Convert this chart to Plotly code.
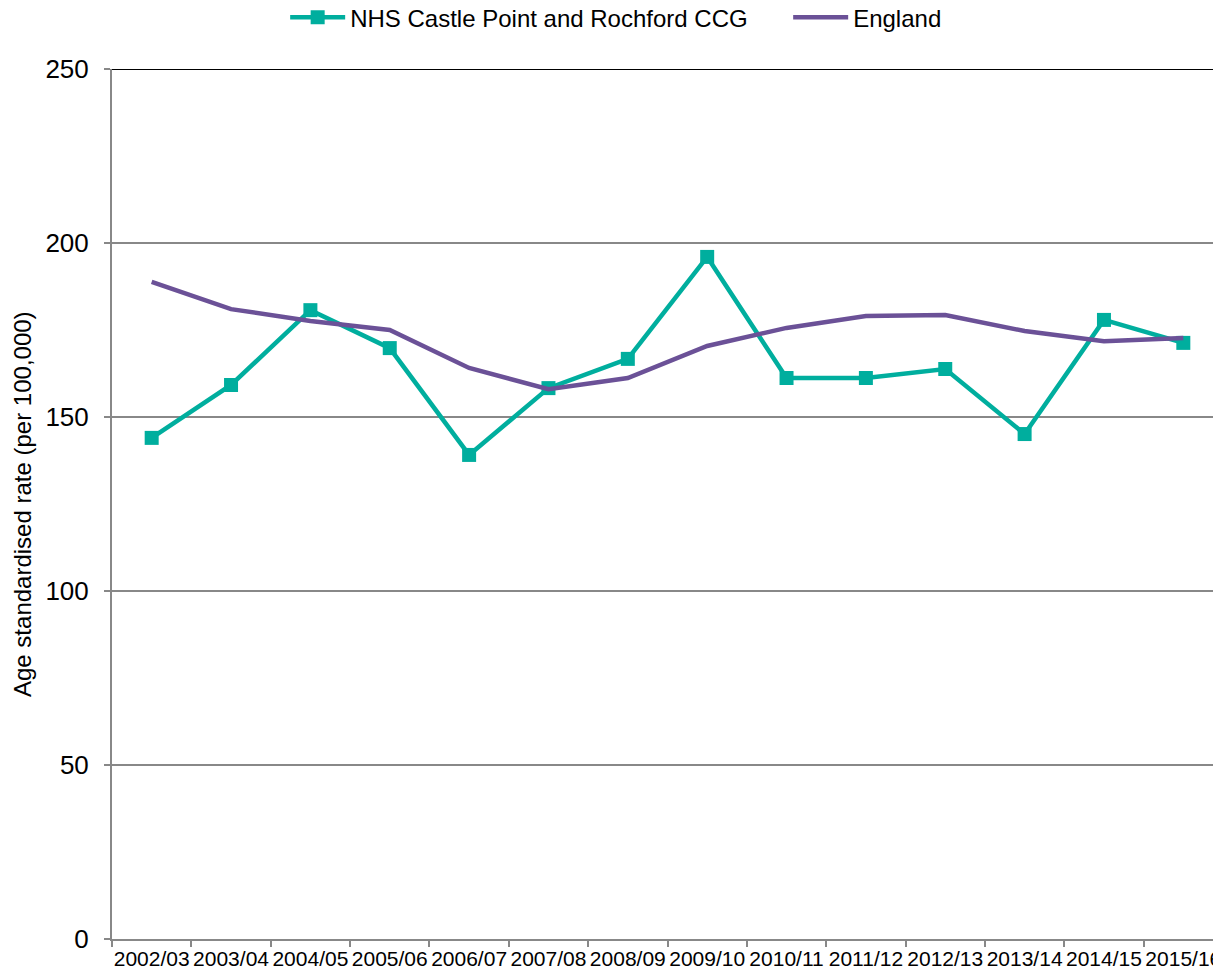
import plotly.graph_objects as go

years = ["2002/03", "2003/04", "2004/05", "2005/06", "2006/07", "2007/08", "2008/09",
         "2009/10", "2010/11", "2011/12", "2012/13", "2013/14", "2014/15", "2015/16"]
ccg = [144.0, 159.2, 180.7, 169.8, 139.1, 158.3, 166.7,
       196.0, 161.2, 161.2, 163.8, 145.1, 177.9, 171.3]
england = [188.8, 181.0, 177.6, 175.0, 164.1, 158.0, 161.2,
           170.4, 175.6, 179.0, 179.3, 174.7, 171.8, 172.7]

teal = "#00AE9E"
purple = "#6B5197"
grey = "#888888"

fig = go.Figure()
fig.add_trace(go.Scatter(
    x=years, y=ccg, name="NHS Castle Point and Rochford CCG",
    mode="lines+markers", line=dict(color=teal, width=4.5),
    marker=dict(symbol="square", size=14, color=teal),
))
fig.add_trace(go.Scatter(
    x=years, y=england, name="England",
    mode="lines", line=dict(color=purple, width=4.5),
))

# top gridline is black in the original
fig.add_shape(type="line", xref="paper", yref="y", x0=0, x1=1, y0=250, y1=250,
              line=dict(color="black", width=2), layer="below")

# y axis title as an annotation (axis title gets displaced by the raised legend)
fig.add_annotation(text="Age standardised rate (per 100,000)", textangle=-90,
                   xref="paper", yref="paper", x=0, y=0.5, xanchor="center",
                   yanchor="middle", xshift=-90, showarrow=False,
                   font=dict(size=24))

fig.update_layout(
    width=1221, height=977,
    paper_bgcolor="white", plot_bgcolor="white",
    font=dict(family="Liberation Sans, Arial, sans-serif", color="black"),
    margin=dict(l=104, r=6, t=61, b=46, autoexpand=False),
    showlegend=True,
    legend=dict(orientation="h", x=0.227, xanchor="left", xref="container",
                y=1.085, yanchor="top", yref="paper",
                font=dict(size=24), traceorder="normal",
                itemwidth=55, entrywidth=433),
    xaxis=dict(
        type="category", showgrid=False, showline=True, linecolor=grey, linewidth=2,
        ticks="outside", tickson="boundaries", ticklen=6, tickcolor=grey, tickwidth=2,
        tickfont=dict(size=21), tickangle=0, range=[-0.5, 13.5],
    ),
    yaxis=dict(
        range=[0, 250], dtick=50, showgrid=True, gridcolor=grey, gridwidth=1.5,
        showline=True, linecolor=grey, linewidth=2, ticks="outside", ticklen=6,
        tickcolor=grey, tickwidth=2, tickfont=dict(size=26), zeroline=False,
        ticklabelstandoff=10,
    ),
)

fig.write_html("out.html")
